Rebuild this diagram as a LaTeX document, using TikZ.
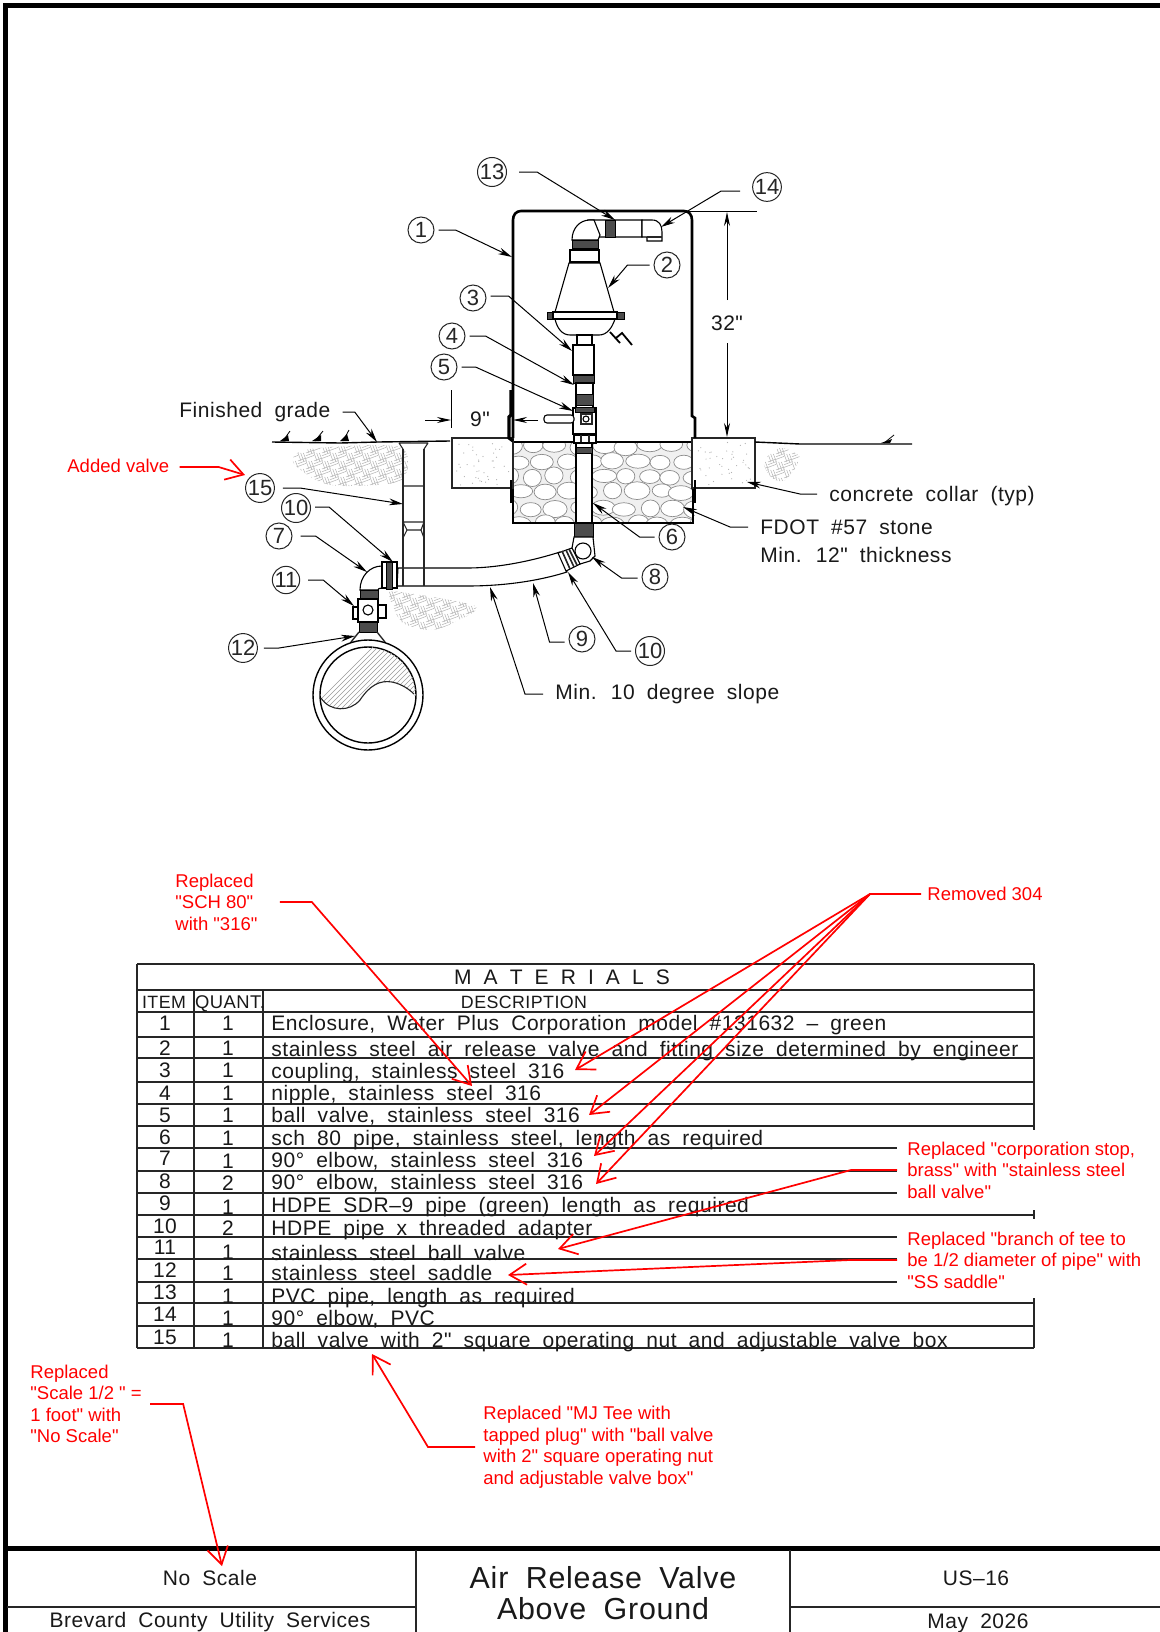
\documentclass[tikz,border=0pt]{standalone}
\usepackage{fontspec}
\setmainfont{Liberation Sans}
\newfontfamily\cadfont[WordSpace=1.9,LetterSpace=2.5]{Liberation Sans}
\newfontfamily\redfont{Liberation Sans}
\usetikzlibrary{arrows.meta}
\definecolor{redmark}{RGB}{255,0,0}
\tikzset{
  line/.style={black!85,line width=.55pt},
  heavy/.style={black,line width=1.3pt},
  dimline/.style={black,line width=.5pt},
  pipe/.style={draw=black,fill=white,line width=.55pt},
  band/.style={draw=black,fill=black!70,line width=.4pt},
  cad/.style={font=\cadfont\fontsize{10.5}{12}\selectfont,inner sep=0pt,text height=7.5pt,text depth=0pt,text=black!90},
  cadl/.style={cad,anchor=west},
  callout/.style={draw=black!85,circle,line width=.5pt,minimum size=13pt,inner sep=0pt,font=\fontsize{11}{12}\selectfont,text=black!85},
  leader/.style={black,line width=.5pt,-{Stealth[length=7pt,width=3.4pt]},shorten <=2pt},
  redtext/.style={font=\redfont\fontsize{9.25}{10.75}\selectfont,text=redmark,align=left,anchor=west,inner sep=0pt},
  redline/.style={redmark,line width=.85pt,-{Straight Barb[length=8.5pt,width=10.5pt,line width=.85pt]}},
  soil/.style={black!30,line width=.25pt},
  stone/.style={draw=black!45,fill=white,line width=.35pt},
}
\newcommand{\soilblocks}[4]{%
  \foreach \i in {0,...,#3}{\foreach \j in {0,...,#4}{%
    \pgfmathsetmacro{\px}{#1+8*\i}\pgfmathsetmacro{\py}{#2+8*\j}%
    \ifodd\numexpr\i+\j\relax
      \foreach \k in {0,2.7,5.4}{\draw[soil] (\px,\py+\k) -- ++(8,-3);}
    \else
      \foreach \k in {0,2.7,5.4}{\draw[soil] (\px+\k,\py) -- ++(3,8);}
    \fi}}}
\begin{document}
\begin{tikzpicture}[x=.5pt,y=-.5pt]
\useasboundingbox (0,0) rectangle (1160,1632);
\fill[white] (0,0) rectangle (1160,1632);
% frame
\draw[black,line width=2.5pt] (5,1632) -- (5,6) -- (1160,6);
\draw[black,line width=2.5pt] (5,1548) -- (1160,1548);
\draw[line] (416,1550) -- (416,1632) (790,1550) -- (790,1632);
\draw[line,line width=.8pt] (7,1607) -- (416,1607) (790,1607) -- (1160,1607);
% soil patches
\begin{scope}\clip plot[smooth cycle] coordinates {(293,462) (310,449) (400,447) (402,480) (350,486) (320,482)};\soilblocks{290}{445}{14}{5}\end{scope}
\begin{scope}\clip plot[smooth cycle] coordinates {(389,595) (400,592) (475,606) (455,622) (430,630) (402,622)};\soilblocks{386}{590}{11}{5}\end{scope}
\begin{scope}\clip plot[smooth cycle] coordinates {(764,462) (780,448) (800,458) (785,480) (772,478)};\soilblocks{760}{446}{5}{4}\end{scope}
% stone
\draw[line,fill=black!6] (513,442) rectangle (693,523);
\begin{scope}
\clip (513,442) rectangle (693,523);
\pgfmathsetseed{11}
\foreach \r in {0,...,5}{\foreach \c in {0,...,8}{
  \pgfmathsetmacro{\ex}{510+\c*23+mod(\r,2)*11+3*rand}
  \pgfmathsetmacro{\ey}{446+\r*15.5+2*rand}
  \pgfmathsetmacro{\ea}{9+4*rnd}
  \pgfmathsetmacro{\eb}{6.5+2.5*rnd}
  \draw[stone] (\ex,\ey) ellipse [x radius=\ea,y radius=\eb];}}
\end{scope}
\draw[black,line width=.8pt] (513,442) -- (513,523) -- (693,523) -- (693,442) -- cycle;
% collars
\draw[line,line width=.8pt,fill=white] (452,438) rectangle (513,488);
\draw[line,line width=.8pt,fill=white] (692,438) rectangle (755,488);
\pgfmathsetseed{5}
\foreach \n in {1,...,40}{\pgfmathsetmacro{\dx}{456+53*rnd}\pgfmathsetmacro{\dy}{442+43*rnd}\fill[black!30] (\dx,\dy) circle (.3pt);}
\foreach \n in {1,...,40}{\pgfmathsetmacro{\dx}{696+55*rnd}\pgfmathsetmacro{\dy}{442+43*rnd}\fill[black!30] (\dx,\dy) circle (.3pt);}
% ground
\draw[black,line width=.7pt] (272,442) -- (340,443) -- (378,442) -- (450,441);
\draw[black,line width=.7pt] (755,442) -- (800,444) -- (912,444);
\foreach \gx/\gy/\hx/\hy in {283/441/290/431,315/441/323/431,343/441/349/430,884/443/894/435}{
  \draw[black,line width=.4pt] (\gx,\gy) -- (\hx,\hy);
  \fill[black] (\gx-3,\gy) -- (\gx+6,\gy) -- (\hx-2,\hy+4) -- cycle;}
% enclosure
\draw[heavy] (513,438) -- (513,220) .. controls (513,215) and (516,211) .. (521,211) -- (684,211) .. controls (689,211) and (692,215) .. (692,220) -- (692,416) -- (695,418) -- (695,438);
\draw[black,line width=1.6pt] (511,390) -- (511,415) -- (509,417) -- (509,438) -- (513,441);
\draw[black,line width=1.3pt] (511,480) -- (511,503);
\draw[black,line width=1.3pt] (695,480) -- (695,503);
% dimensions
\draw[dimline] (685,211) -- (757,211);
\draw[dimline,-{Stealth[length=7pt,width=3pt]}] (727,300) -- (727,212);
\draw[dimline,-{Stealth[length=7pt,width=3pt]}] (727,343) -- (727,437);
\draw[dimline] (451,390) -- (451,428);
\draw[dimline,-{Stealth[length=7pt,width=3pt]}] (425,420) -- (451,420);
\draw[dimline,-{Stealth[length=7pt,width=3pt]}] (538,420) -- (513,420);
% upper pipe work
\draw[pipe] (588,220) -- (642,220) -- (642,237) -- (590,237) -- cycle;
\draw[band] (605,220) rectangle (615,237);
\draw[pipe] (642,220) -- (652,220) .. controls (659,220) and (662,225) .. (662,232) -- (662,241) -- (647,241) -- (647,237) -- (642,237) -- cycle;
\draw[line] (647,237) -- (662,237);
\draw[pipe] (572,240) .. controls (572,228) and (580,220) .. (590,220) -- (594,220) -- (600,235) -- (598,240) -- cycle;
\draw[band] (572,240) rectangle (598,248);
\draw[pipe] (570,250) rectangle (599,262);
\draw[pipe] (569,263) -- (600,263) -- (614,312) -- (555,312) -- cycle;
\draw[pipe] (555,319) .. controls (557,328) and (562,335) .. (570,335) -- (599,335) .. controls (607,335) and (612,328) .. (615,319) -- cycle;
\draw[band] (547,312) rectangle (554,319) (616,312) rectangle (624,319);
\draw[pipe] (553,312) rectangle (617,319);
\draw[black,line width=.9pt] (610,332) -- (620,343) (616,338) -- (622,333) -- (632,345);
\draw[pipe] (577,335) rectangle (592,345);
\draw[pipe] (573,345) rectangle (594,375);
\draw[band] (573,375) rectangle (594,383);
\draw[pipe] (576,383) rectangle (593,408);
\draw[band] (576,394) rectangle (593,405);
\draw[pipe] (573,408) rectangle (596,434);
\draw[band] (575,407) rectangle (594,412);
\draw[pipe,rounded corners=1.5pt] (544,415) rectangle (574,423);
\draw[pipe] (586,419) circle [radius=3];
\draw[line] (581,414) -- (592,414) -- (592,424) -- (581,424) -- cycle;
\draw[pipe] (574,435) rectangle (596,443);
\draw[line] (581,435) -- (581,443) (589,435) -- (589,443);
\draw[pipe] (576,443) rectangle (592,523);
\draw[band] (576,447) rectangle (592,453);
% lower pipe work
\draw[pipe] (398,568) -- (467,568) .. controls (500,568) and (535,560) .. (560,552) -- (567,572) .. controls (535,582) and (500,586) .. (467,586) -- (397,586) -- cycle;
\draw[band] (574,523) rectangle (593,537);
\draw[pipe] (574,537) -- (593,537) -- (595,556) -- (590,561) -- (580,564) -- (572,548) -- cycle;
\draw[pipe] (583,551) circle [radius=8];
\draw[pipe] (558,553) -- (572,548) -- (580,564) -- (566,571) -- cycle;
\draw[line,line width=.8pt] (562,551) -- (570,569) (566,550) -- (574,567) (569,549) -- (577,565);
% valve box
\draw[line,line width=.6pt] (403,449) -- (403,586) (424,449) -- (424,586);
\draw[line] (399,443) -- (403,449) (428,443) -- (424,449) (399,443) -- (428,443);
\draw[line] (403,486) -- (424,486) (403,522) -- (424,522) (407,530) -- (421,530) (403,522) -- (407,530) (424,522) -- (421,530) (407,530) -- (403,538) (421,530) -- (424,538);
% elbow 7, valve 11, saddle
\draw[pipe] (360,590) .. controls (360,576) and (370,566) .. (382,566) -- (382,588) .. controls (379,588) and (378,589) .. (378,590) -- cycle;
\draw[pipe] (382,562) rectangle (397,588);
\draw[band] (386,562) rectangle (392,589);
\draw[band] (360,590) rectangle (378,599);
\draw[pipe] (353,607) rectangle (359,619);
\draw[pipe] (378,605) rectangle (386,618);
\draw[pipe] (358,599) rectangle (378,622);
\draw[pipe] (368,610) circle [radius=5];
\draw[band] (359,622) rectangle (377,632);
% main pipe
\draw[line,line width=.7pt] (359,632) -- (351,642) (377,632) -- (385,642);
\draw[pipe,line width=.7pt] (368,695) circle [radius=55];
\draw[pipe,line width=.7pt] (368,695) circle [radius=48];
\begin{scope}
\clip (368,695) circle [radius=48];
\clip (320,640) -- (320,698) .. controls (330,712) and (350,712) .. (360,700) .. controls (370,685) and (380,680) .. (392,682) .. controls (402,684) and (410,690) .. (416,697) -- (416,640) -- cycle;
\foreach \d in {0,5,...,120}{\draw[black!40,line width=.3pt] (300+\d,720) -- (300+\d+80,640);}
\end{scope}
\draw[line] (321,698) .. controls (330,712) and (350,712) .. (360,700) .. controls (370,685) and (380,680) .. (392,682) .. controls (402,684) and (410,690) .. (414,694);
% callouts
\foreach \nm/\cx/\cy/\tx in {c13/492/172/13,c14/767/187/14,c1/421/230/1,c2/667/265/2,c3/473/298/3,c4/452/336/4,c5/444/367/5,c15/260/488/15,c10a/296/508/10,c7/279/536/7,c11/286/580/11,c12/243/648/12,c9/582/639/9,c10b/650/651/10,c8/655/577/8,c6/672/537/6}{
  \node[callout] (\nm) at (\cx,\cy) {\tx};}
% leader tips
\coordinate (t13) at (615,220); \coordinate (t14) at (661,227); \coordinate (t1) at (512,257);
\coordinate (t2) at (608,288); \coordinate (t3) at (572,351); \coordinate (t4) at (574,385);
\coordinate (t5) at (573,411); \coordinate (t15) at (403,504); \coordinate (t10a) at (393,562);
\coordinate (t7) at (367,572); \coordinate (t11) at (354,606); \coordinate (t12) at (355,636);
\coordinate (t9) at (533,583); \coordinate (t10b) at (568,572); \coordinate (t8) at (592,557);
\coordinate (t6) at (593,503); \coordinate (tfg) at (377,442); \coordinate (tmin) at (490,587);
\coordinate (tfd) at (683,507); \coordinate (tcc) at (747,482);
\draw[leader,shorten <=6pt] (c13.east) -- ++(30,0) -- (t13);
\draw[leader,shorten <=6pt] (c14.west) ++(0,4) -- ++(-31,0) -- (t14);
\draw[leader] (c1.east) -- ++(21,0) -- (t1);
\draw[leader] (c2.west) -- ++(-26,0) -- (t2);
\draw[leader] (c3.east) ++(0,-2) -- ++(22,0) -- (t3);
\draw[leader] (c4.east) -- ++(20,0) -- (t4);
\draw[leader] (c5.east) -- ++(18,0) -- (t5);
\draw[leader,shorten <=4pt] (c15.east) -- ++(25,0) -- (t15);
\draw[leader] (c10a.east) ++(0,-1) -- ++(18,0) -- (t10a);
\draw[leader,shorten <=4pt] (c7.east) -- ++(23,0) -- (t7);
\draw[leader,shorten <=4pt] (c11.east) -- ++(23,0) -- (t11);
\draw[leader,shorten <=3pt] (c12.east) -- ++(21,0) -- (t12);
\draw[leader] (c9.west) ++(0,3) -- ++(-19,0) -- (t9);
\draw[leader] (c10b.west) -- ++(-19,0) -- (t10b);
\draw[leader] (c8.west) ++(0,1) -- ++(-20,0) -- (t8);
\draw[leader] (c6.west) -- ++(-19,0) -- (t6);
% drawing labels
\node[cadl] (lfg) at (179,410) {Finished grade};
\node[cad] (l9) at (480,419) {9"};
\node[cad] (l32) at (727,323) {32"};
\node[cadl] (lcc) at (829,494) {concrete collar (typ)};
\node[cadl] (lfd) at (760,527) {FDOT \#57 stone};
\node[cadl] (lth) at (760,555) {Min. 12" thickness};
\node[cadl] (lmn) at (555,692) {Min. 10 degree slope};
\draw[leader,shorten <=6pt] (lfg.east) ++(0,2) -- ++(24,0) -- (tfg);
\draw[leader,shorten <=6pt] (lcc.west) -- ++(-29,0) -- (tcc);
\draw[leader,shorten <=6pt] (lfd.west) -- ++(-30,0) -- (tfd);
\draw[leader,shorten <=6pt] (lmn.west) ++(0,2) -- ++(-30,0) -- (tmin);
% table grid
\foreach \y in {964,990,1012,1037,1058,1082,1104,1126,1215,1303,1326,1348}{\draw[line] (137,\y) -- (1034,\y);}
\foreach \y in {1148,1171,1193,1237,1259,1282}{\draw[line] (137,\y) -- (897,\y);}
\draw[line] (137,964) -- (137,1348) (194,990) -- (194,1348) (263,990) -- (263,1348);
\draw[line] (1034,964) -- (1034,1130) (1034,1210) -- (1034,1219) (1034,1298) -- (1034,1348);
% table text
\node[cad] (hmat) at (562,977) {M A T E R I A L S};
\node[cad,font=\cadfont\fontsize{8.9}{12}\selectfont] (hitem) at (164,1001) {ITEM};
\node[cad,font=\cadfont\fontsize{9.2}{12}\selectfont] (hquant) at (230,1001) {QUANT.};
\node[cad,font=\cadfont\fontsize{8.9}{12}\selectfont] (hdesc) at (524,1001) {DESCRIPTION};
\foreach \n/\iy/\q/\qy/\ty/\d in {
 1/1023/1/1023/1023/{Enclosure, Water Plus Corporation model \#131632 – green},
 2/1048/1/1048/1049/{stainless steel air release valve and fitting size determined by engineer},
 3/1070/1/1070/1071/{coupling, stainless steel 316},
 4/1093/1/1093/1093/{nipple, stainless steel 316},
 5/1115/1/1115/1115/{ball valve, stainless steel 316},
 6/1137/1/1138/1138/{sch 80 pipe, stainless steel, length as required},
 7/1158/1/1161/1160/{90° elbow, stainless steel 316},
 8/1181/2/1183/1182/{90° elbow, stainless steel 316},
 9/1203/1/1207/1205/{HDPE SDR–9 pipe (green) length as required},
 10/1226/2/1228/1228/{HDPE pipe x threaded adapter},
 11/1247/1/1252/1253/{stainless steel ball valve},
 12/1270/1/1273/1273/{stainless steel saddle},
 13/1292/1/1296/1296/{PVC pipe, length as required},
 14/1314/1/1318/1318/{90° elbow, PVC},
 15/1337/1/1340/1340/{ball valve with 2" square operating nut and adjustable valve box}}{
  \node[cad] (it\n) at (165,\iy) {\n};
  \node[cad] (qt\n) at (228,\qy) {\q};
  \node[cadl] (ds\n) at (271,\ty) {\d};
}
% title block text
\node[cad] (tscale) at (210,1578) {No Scale};
\node[cad] (tbrev) at (210,1620) {Brevard County Utility Services};
\node[cad,font=\cadfont\fontsize{15.2}{18}\selectfont,text height=11pt] (ttl1) at (603,1577) {Air Release Valve};
\node[cad,font=\cadfont\fontsize{15.2}{18}\selectfont,text height=11pt] (ttl2) at (603,1608) {Above Ground};
\node[cad] (tno) at (976,1578) {US–16};
\node[cad] (tdate) at (978,1621) {May 2026};
% red notes
\node[redtext] (radd) at (67,466) {Added valve};
\node[redtext] (rsch) at (175,902) {Replaced\\"SCH 80"\\with "316"};
\node[redtext] (rrem) at (927,894) {Removed 304};
\node[redtext] (rcorp) at (907,1170) {Replaced "corporation stop,\\brass" with "stainless steel\\ball valve"};
\node[redtext] (rbran) at (907,1260) {Replaced "branch of tee to\\be 1/2 diameter of pipe" with\\"SS saddle"};
\node[redtext] (rmj) at (483,1447) {Replaced "MJ Tee with\\tapped plug" with "ball valve\\with 2" square operating nut\\and adjustable valve box"};
\node[redtext] (rscale) at (30,1404) {Replaced\\"Scale 1/2 " =\\1 foot" with\\"No Scale"};
\coordinate (tadd) at (245,475); \coordinate (tsch) at (472,1086);
\coordinate (tr3) at (575,1070); \coordinate (tr5) at (589,1115); \coordinate (tr7) at (594,1156); \coordinate (tr8) at (596,1184);
\coordinate (tr11) at (558,1249); \coordinate (tr12) at (508,1275); \coordinate (tmj) at (372,1354); \coordinate (tnos) at (222,1566);
\draw[redline,shorten <=5pt] (radd.east) ++(0,1) -- ++(49,0) -- (tadd);
\draw[redline,shorten <=11pt] (rsch.east) -- ++(54,0) -- (tsch);
\draw[redline,shorten <=3pt] (rrem.west) -- ++(-57,0) coordinate (kfan) -- (tr3);
\draw[redline] (kfan) -- (tr5);
\draw[redline] (kfan) -- (tr7);
\draw[redline] (kfan) -- (tr8);
\draw[redline,shorten <=5pt] (rcorp.west) -- ++(-56,0) -- (tr11);
\draw[redline,shorten <=5pt] (rbran.west) -- ++(-57,0) -- (tr12);
\draw[redline,shorten <=4pt] (rmj.west) -- ++(-55,0) -- (tmj);
\draw[redline,shorten <=4pt] (rscale.east) -- ++(41,0) -- (tnos);
\end{tikzpicture}
\end{document}
